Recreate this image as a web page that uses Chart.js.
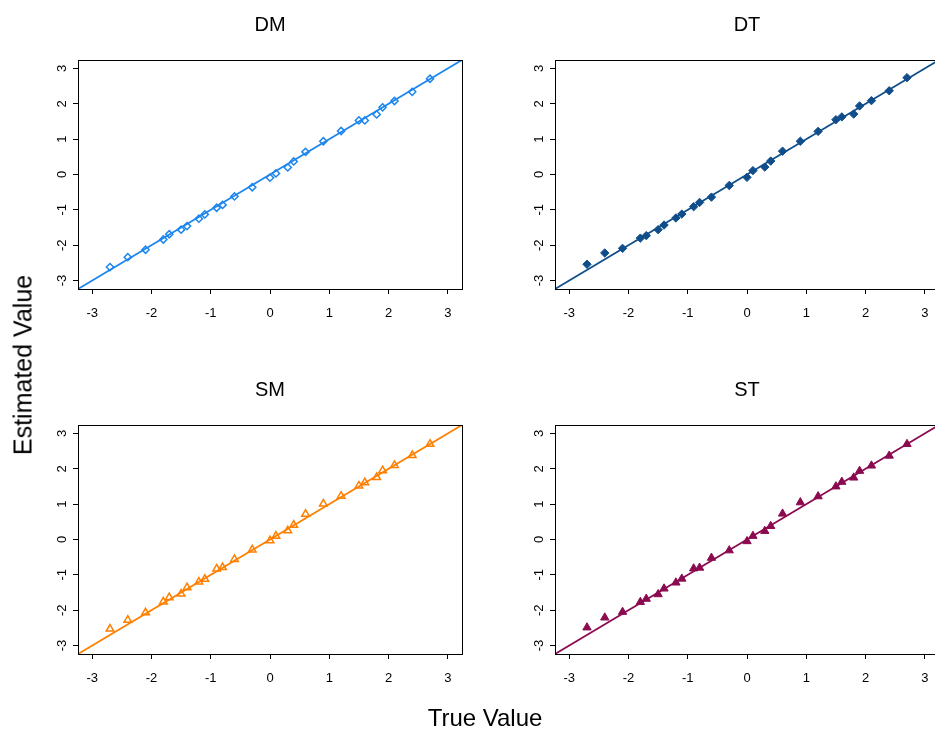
<!DOCTYPE html>
<html>
<head>
<meta charset="utf-8">
<script src="https://cdn.jsdelivr.net/npm/chart.js@4/dist/chart.umd.min.js"></script>
<style>
  html, body { margin: 0; padding: 0; background: #fff; overflow: hidden; }
  #wrap { position: relative; width: 935px; height: 732px; overflow: hidden; background: #fff; }
  canvas { position: absolute; }
  .lab { position: absolute; font-family: "Liberation Sans", Arial, sans-serif; color: #000; white-space: nowrap; }
</style>
</head>
<body>
<div id="wrap">
  <canvas id="c1" width="470" height="340" style="left:0px;top:0px"></canvas>
  <canvas id="c2" width="470" height="340" style="left:477px;top:0px"></canvas>
  <canvas id="c3" width="470" height="340" style="left:0px;top:365px"></canvas>
  <canvas id="c4" width="470" height="340" style="left:477px;top:365px"></canvas>
  <div class="lab" id="ylab" style="font-size:25px;left:23px;top:365px;transform:translate(-50%,-50%) rotate(-90deg);">Estimated Value</div>
  <div class="lab" id="xlab" style="font-size:24px;left:485px;top:718px;transform:translate(-50%,-50%);">True Value</div>
</div>
<script>
// ---- data ----
const panelTitles = ["DM", "DT", "SM", "ST"];
const trueVals = [-2.7,-2.4,-2.1,-1.8,-1.7,-1.5,-1.4,-1.2,-1.1,-0.9,-0.8,-0.6,-0.3,0,0.1,0.3,0.4,0.6,0.9,1.2,1.5,1.6,1.8,1.9,2.1,2.4,2.7];
const dmEst = [-2.62,-2.34,-2.13,-1.84,-1.69,-1.56,-1.46,-1.25,-1.13,-0.94,-0.86,-0.62,-0.36,-0.09,0.03,0.20,0.37,0.64,0.94,1.23,1.53,1.53,1.70,1.90,2.08,2.34,2.71];
const dtEst = [-2.54,-2.22,-2.09,-1.80,-1.73,-1.56,-1.43,-1.23,-1.12,-0.91,-0.79,-0.64,-0.31,-0.08,0.11,0.21,0.38,0.66,0.94,1.22,1.55,1.63,1.71,1.94,2.09,2.37,2.74];
const smEst = [-2.53,-2.28,-2.07,-1.76,-1.64,-1.54,-1.36,-1.20,-1.12,-0.83,-0.79,-0.56,-0.29,-0.03,0.10,0.25,0.41,0.72,1.01,1.23,1.52,1.61,1.76,1.95,2.10,2.38,2.70];
const stEst = [-2.49,-2.21,-2.05,-1.77,-1.68,-1.55,-1.39,-1.22,-1.11,-0.82,-0.80,-0.52,-0.31,-0.05,0.10,0.24,0.38,0.73,1.05,1.22,1.50,1.63,1.75,1.94,2.09,2.37,2.70];
const axisTicks = [-3,-2,-1,0,1,2,3];
const axisLimits = [-3.24, 3.24];

// ---- styling ----
const FONT = '"Liberation Sans", Arial, sans-serif';
const panelStyles = [
  { color: '#1C86EE', pointStyle: 'rectRot', radius: 3.6, fill: false, bw: 1.5 },
  { color: '#104E8B', pointStyle: 'rectRot', radius: 4.2, fill: true,  bw: 1 },
  { color: '#FF7F00', pointStyle: 'triangle', radius: 4.4, fill: false, bw: 1.5 },
  { color: '#8B0A50', pointStyle: 'triangle', radius: 4.8, fill: true,  bw: 1 }
];
const estimates = [dmEst, dtEst, smEst, stEst];

const boxPlugin = {
  id: 'box',
  afterDraw(chart) {
    const a = chart.chartArea, ctx = chart.ctx;
    ctx.save();
    ctx.strokeStyle = '#000';
    ctx.lineWidth = 1;
    ctx.strokeRect(Math.round(a.left) + 0.5, Math.round(a.top) + 0.5,
                   Math.round(a.right - a.left), Math.round(a.bottom - a.top));
    ctx.restore();
  }
};

function makeScale(axis) {
  return {
    type: 'linear',
    min: axisLimits[0],
    max: axisLimits[1],
    afterBuildTicks: s => { s.ticks = axisTicks.map(v => ({ value: v })); },
    afterFit: s => { if (axis === 'x') s.height = 51; else s.width = 40; },
    grid: { display: true, drawOnChartArea: false, drawTicks: true, tickLength: 5, color: '#000', lineWidth: 1 },
    border: { display: false },
    ticks: axis === 'x'
      ? { color: '#000', font: { family: FONT, size: 13 }, padding: 12, maxRotation: 0, minRotation: 0 }
      : { color: '#000', font: { family: FONT, size: 13 }, padding: 5, minRotation: 90, maxRotation: 90, crossAlign: 'center' }
  };
}

function makePanel(id, idx) {
  const st = panelStyles[idx];
  const est = estimates[idx];
  const pts = trueVals.map((x, i) => ({ x: x, y: est[i] }));
  const refLine = axisLimits.map(v => ({ x: v, y: v }));
  const cv = document.getElementById(id);
  const chart = new Chart(cv, {
    type: 'scatter',
    data: {
      datasets: [
        {
          type: 'line', data: refLine, borderColor: st.color, borderWidth: 1.8,
          pointRadius: 0, fill: false, tension: 0, order: 1
        },
        {
          data: pts, pointStyle: st.pointStyle, pointRadius: st.radius,
          borderColor: st.color, borderWidth: st.bw,
          backgroundColor: st.fill ? st.color : 'rgba(0,0,0,0)', order: 2
        }
      ]
    },
    options: {
      responsive: false,
      animation: false,
      devicePixelRatio: 1,
      layout: { padding: { left: 38, right: 8, top: 60, bottom: 0 } },
      plugins: {
        legend: { display: false },
        tooltip: { enabled: false },
        title: { display: false }
      },
      scales: { x: makeScale('x'), y: makeScale('y') }
    },
    plugins: [boxPlugin]
  });
  // panel title centred over the plot box
  const a = chart.chartArea;
  const t = document.createElement('div');
  t.className = 'lab';
  t.textContent = panelTitles[idx];
  t.style.fontSize = '20px';
  t.style.left = (parseFloat(cv.style.left) + (a.left + a.right) / 2) + 'px';
  t.style.top = (parseFloat(cv.style.top) + 24) + 'px';
  t.style.transform = 'translate(-50%,-50%)';
  document.getElementById('wrap').appendChild(t);
}

makePanel('c1', 0);
makePanel('c2', 1);
makePanel('c3', 2);
makePanel('c4', 3);
</script>
</body>
</html>
